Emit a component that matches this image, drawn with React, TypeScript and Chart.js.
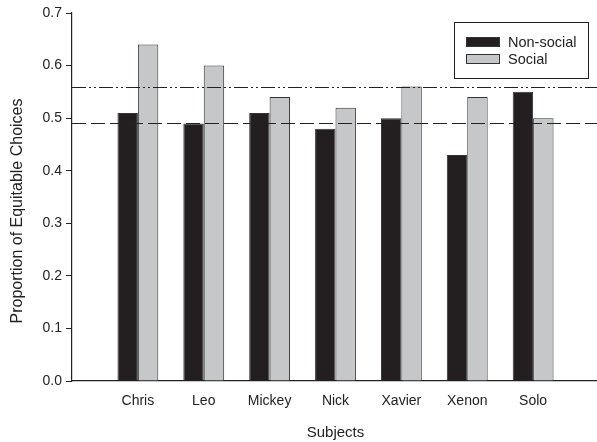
import React, { useEffect, useRef } from "react";
import { Chart, registerables } from "chart.js";

Chart.register(...registerables);

const categories = ["", "Chris", "Leo", "Mickey", "Nick", "Xavier", "Xenon", "Solo", ""];
const nonSocial = [null, 0.51, 0.49, 0.51, 0.48, 0.5, 0.43, 0.55, null];
const social = [null, 0.64, 0.6, 0.54, 0.52, 0.56, 0.54, 0.5, null];
const yTicks = [0, 0.1, 0.2, 0.3, 0.4, 0.5, 0.6, 0.7];
const dashedLevel = 0.49;
const dashDotLevel = 0.56;
const yTitle = "Proportion of Equitable Choices";

const FONT = "'Liberation Sans', Arial, Helvetica, sans-serif";

const refLinesPlugin = {
  id: "refLines",
  afterDatasetsDraw(chart: any) {
    const { ctx, chartArea, scales } = chart;
    const y = scales.y;
    ctx.save();
    ctx.strokeStyle = "#222";
    ctx.lineWidth = 1.2;
    const draw = (v: number, dash: number[]) => {
      const py = Math.round(y.getPixelForValue(v)) + 0.5;
      ctx.setLineDash(dash);
      ctx.beginPath();
      ctx.moveTo(chartArea.left, py);
      ctx.lineTo(chartArea.right, py);
      ctx.stroke();
    };
    draw(dashedLevel, [14, 5]);
    draw(dashDotLevel, [14, 3, 2, 3, 2, 3]);
    ctx.restore();
  },
};

const yTitlePlugin = {
  id: "yTitle",
  afterDraw(chart: any) {
    const { ctx } = chart;
    ctx.save();
    ctx.translate(17.5, 211);
    ctx.rotate(-Math.PI / 2);
    ctx.font = `16px ${FONT}`;
    ctx.fillStyle = "#222";
    ctx.textAlign = "center";
    ctx.textBaseline = "middle";
    ctx.fillText(yTitle, 0, 0);
    ctx.restore();
  },
};

const boxLegendPlugin = {
  id: "boxLegend",
  afterDraw(chart: any) {
    const { ctx, chartArea } = chart;
    const x0 = 454;
    const y0 = chartArea.top + 9;
    const w = 134;
    const h = 56;
    ctx.save();
    ctx.fillStyle = "#fff";
    ctx.fillRect(x0, y0, w, h);
    ctx.strokeStyle = "#222";
    ctx.lineWidth = 1;
    ctx.strokeRect(x0 + 0.5, y0 + 0.5, w, h);
    ctx.font = `14.5px ${FONT}`;
    ctx.textBaseline = "middle";
    chart.data.datasets.forEach((ds: any, i: number) => {
      const sy = y0 + 15 + i * 17;
      ctx.fillStyle = ds.backgroundColor;
      ctx.fillRect(x0 + 12, sy, 34, 10);
      ctx.strokeStyle = "#333";
      ctx.strokeRect(x0 + 12.5, sy + 0.5, 33, 9);
      ctx.fillStyle = "#222";
      ctx.fillText(ds.label, x0 + 54, sy + 5.5);
    });
    ctx.restore();
  },
};

export default function App() {
  const ref = useRef<HTMLCanvasElement | null>(null);
  useEffect(() => {
    if (!ref.current) return;
    const chart = new Chart(ref.current, {
      type: "bar",
      data: {
        labels: categories,
        datasets: [
          {
            label: "Non-social",
            data: nonSocial as any,
            backgroundColor: "#231f20",
            borderColor: "#333",
            borderWidth: 1,
            categoryPercentage: 0.62,
            barPercentage: 1.0,
          },
          {
            label: "Social",
            data: social as any,
            backgroundColor: "#c6c7c8",
            borderColor: "#333",
            borderWidth: 1,
            categoryPercentage: 0.62,
            barPercentage: 1.0,
          },
        ],
      },
      options: {
        animation: false,
        responsive: false,
        maintainAspectRatio: false,
        layout: { padding: { top: 13, right: 0, left: 0, bottom: 0 } },
        plugins: { legend: { display: false }, tooltip: { enabled: false } },
        scales: {
          x: {
            offset: false,
            grid: { display: true, drawOnChartArea: false, drawTicks: false },
            border: { display: true, color: "#222", width: 1.2 },
            ticks: {
              font: { family: FONT, size: 14 },
              color: "#222",
              padding: 12,
              maxRotation: 0,
              autoSkip: false,
            },
            title: {
              display: true,
              text: "Subjects",
              font: { family: FONT, size: 15 },
              color: "#222",
              padding: { top: 14, bottom: 0 },
            },
            afterFit(scale: any) {
              scale.height = 61;
            },
          },
          y: {
            min: 0,
            max: 0.7,
            afterBuildTicks(scale: any) {
              scale.ticks = yTicks.map((v) => ({ value: v }));
            },
            grid: { display: true, drawOnChartArea: false, drawTicks: true, tickLength: 6, color: "#222" },
            border: { display: true, color: "#222", width: 1.2 },
            ticks: {
              font: { family: FONT, size: 14 },
              color: "#222",
              padding: 4,
              callback: (v: any) => Number(v).toFixed(1),
            },
            afterFit(scale: any) {
              scale.width = 72;
            },
          },
        },
      },
      plugins: [refLinesPlugin, boxLegendPlugin, yTitlePlugin],
    });
    return () => chart.destroy();
  }, []);
  return (
    <div style={{ position: "absolute", left: 0, top: 0, width: 597, height: 442, overflow: "hidden", background: "#fff" }}>
      <canvas ref={ref} width={611} height={442} style={{ width: 611, height: 442, display: "block" }} />
    </div>
  );
}
